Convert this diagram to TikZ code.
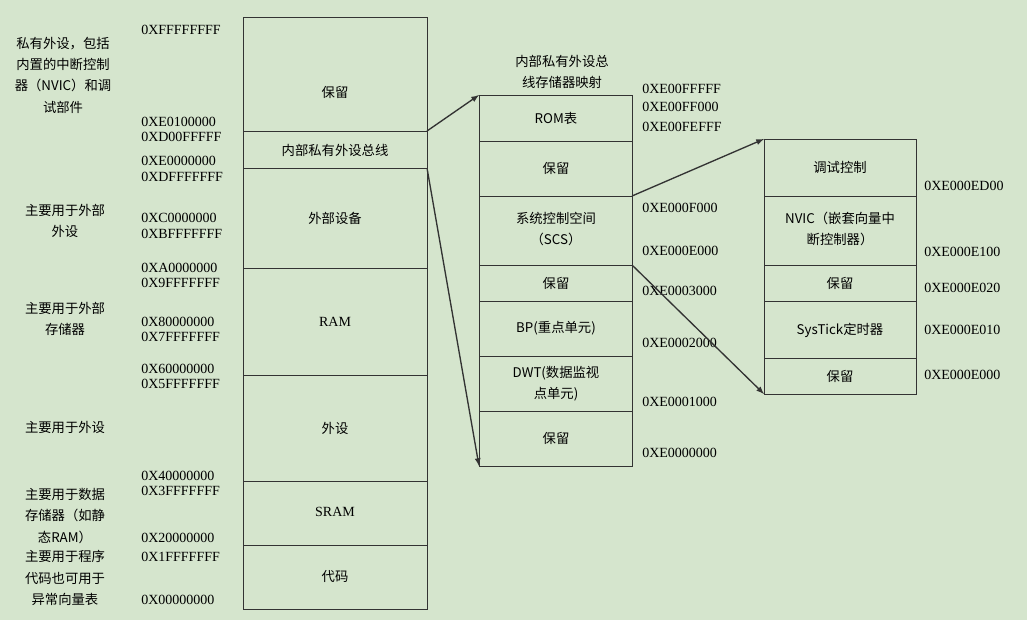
\documentclass[tikz,border=0pt]{standalone}
\usepackage{fontspec}
\setmainfont{Liberation Serif}
\newfontfamily\cjk{Noto Sans CJK SC}
\definecolor{bg}{HTML}{D5E5CD}
\definecolor{bx}{HTML}{333333}
\begin{document}
\begin{tikzpicture}[x=0.75pt,y=-0.75pt,
  every node/.style={font=\fontsize{10.5}{13}\selectfont,inner sep=0pt,text=black},
  addr/.style={anchor=west},
  desc/.style={align=center,font=\cjk\fontsize{10}{16}\selectfont},
  lab/.style={align=center,font=\cjk\fontsize{10}{16}\selectfont},
  cell/.style={draw=bx,line width=0.6pt},
  arr/.style={draw=bx,line width=1pt,-latex}]
\fill[bg] (0,0) rectangle (1027,620);
\useasboundingbox (0,0) rectangle (1027,620);
% left column
\foreach \a/\b in {17/131,131/168,168/268,268/375,375/481,481/545,545/609}
  \draw[cell] (243,\a) rectangle (427,\b);
\coordinate (L1) at (427,131); \coordinate (L2) at (427,168);
\node[lab] at (335,92) {保留};
\node[lab] at (335,150) {内部私有外设总线};
\node[lab] at (335,218) {外部设备};
\node at (335,322) {RAM};
\node[lab] at (335,428) {外设};
\node at (335,512) {SRAM};
\node[lab] at (335,577) {代码};
\foreach \t/\y in {0XFFFFFFFF/30,0XE0100000/122,0XD00FFFFF/137,0XE0000000/161,0XDFFFFFFF/177,0XC0000000/218,0XBFFFFFFF/234,0XA0000000/268,0X9FFFFFFF/283,0X80000000/322,0X7FFFFFFF/337,0X60000000/369,0X5FFFFFFF/384,0X40000000/476,0X3FFFFFFF/491,0X20000000/538,0X1FFFFFFF/557,0X00000000/600}
  \node[addr] at (141,\y) {\t};
\node[desc] at (63,75) {私有外设，包括\\内置的中断控制\\器（NVIC）和调\\试部件};
\node[desc] at (65,221) {主要用于外部\\外设};
\node[desc] at (65,319) {主要用于外部\\存储器};
\node[desc] at (65,427) {主要用于外设};
\node[desc] at (65,516) {主要用于数据\\存储器（如静\\态RAM）};
\node[desc] at (65,578) {主要用于程序\\代码也可用于\\异常向量表};
% middle column
\foreach \a/\b in {95/141,141/196,196/265,265/301,301/356,356/411,411/466}
  \draw[cell] (479,\a) rectangle (632,\b);
\coordinate (M1) at (479,95); \coordinate (M2) at (479,466);
\coordinate (M3) at (632,196); \coordinate (M4) at (632,265);
\node[lab] at (562,72) {内部私有外设总\\线存储器映射};
\node[lab] at (556,118) {ROM表};
\node[lab] at (556,168) {保留};
\node[lab] at (556,229) {系统控制空间\\（SCS）};
\node[lab] at (556,283) {保留};
\node[lab] at (556,328) {BP(重点单元)};
\node[lab] at (556,384) {DWT(数据监视\\点单元)};
\node[lab] at (556,438) {保留};
\foreach \t/\y in {0XE00FFFFF/89,0XE00FF000/107,0XE00FEFFF/127,0XE000F000/208,0XE000E000/251,0XE0003000/291,0XE0002000/343,0XE0001000/402,0XE0000000/453}
  \node[addr] at (642,\y) {\t};
% right column
\foreach \a/\b in {139/196,196/265,265/301,301/358,358/394}
  \draw[cell] (764,\a) rectangle (916,\b);
\coordinate (R1) at (764,139); \coordinate (R2) at (764,394);
\node[lab] at (840,167) {调试控制};
\node[lab] at (840,229) {NVIC（嵌套向量中\\断控制器）};
\node[lab] at (840,283) {保留};
\node[lab] at (840,330) {SysTick定时器};
\node[lab] at (840,376) {保留};
\foreach \t/\y in {0XE000ED00/186,0XE000E100/252,0XE000E020/288,0XE000E010/330,0XE000E000/375}
  \node[addr] at (924,\y) {\t};
% arrows
\draw[arr] (L1) -- (M1);
\draw[arr] (L2) -- (M2);
\draw[arr] (M3) -- (R1);
\draw[arr] (M4) -- (R2);
\end{tikzpicture}
\end{document}
